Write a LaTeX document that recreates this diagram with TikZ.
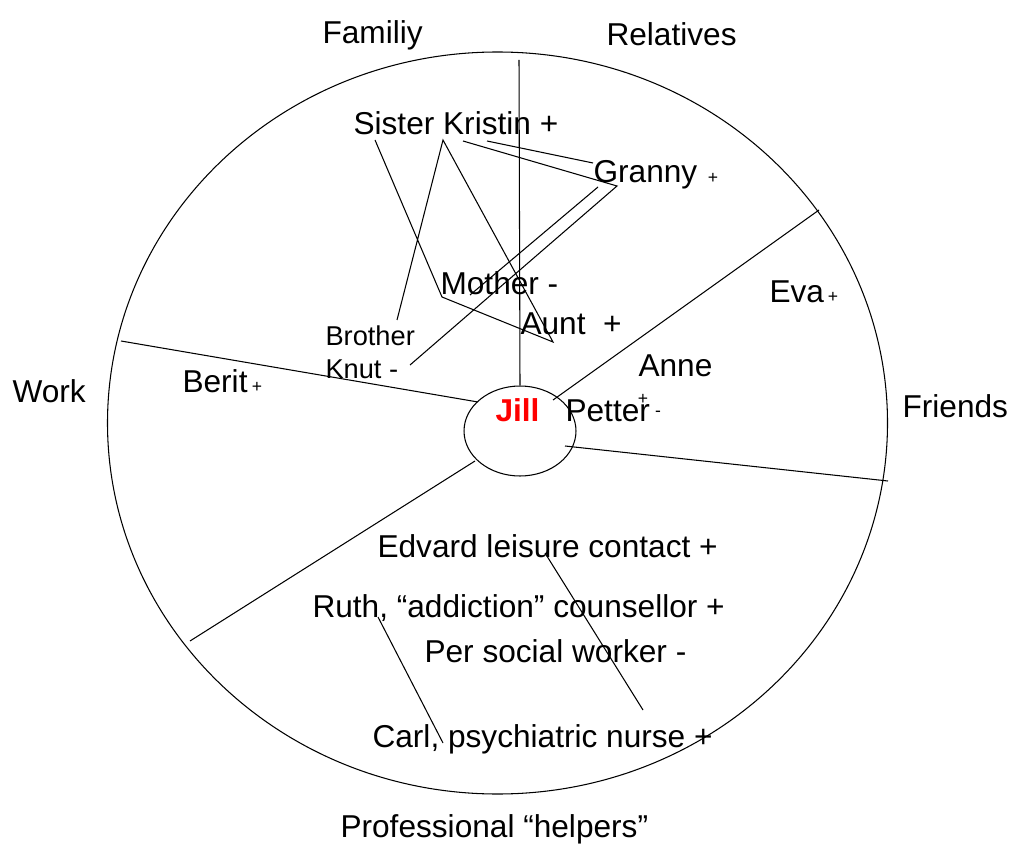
\documentclass[tikz,border=0pt]{standalone}
\usepackage{fontspec}
\setmainfont{Liberation Sans}
\usepackage{tikz}
\usetikzlibrary{positioning,shapes.geometric}

\begin{document}
\begin{tikzpicture}[x=0.02cm,y=-0.02cm,line width=0.6pt,
                    who/.style={font=\fontsize{18}{22}\selectfont,inner sep=0pt,anchor=base west},
                    sign/.style={font=\fontsize{10}{12}\selectfont,inner sep=0pt}]
  \useasboundingbox (0,0) rectangle (1010,844);

  % outer circle and the hub
  \draw (497.5,423) ellipse [x radius=390,y radius=371];
  \node[draw,ellipse,inner sep=0pt,minimum width=2.24cm,minimum height=1.8cm] (hub) at (520,431) {};
  \node[who,text=red,font=\fontsize{18}{22}\selectfont\bfseries] (jill) at (495,421) {Jill};

  % sector names
  \node[who] (family) at (322,44) {Familiy};
  \node[who] (relatives) at (606,46) {Relatives};
  \node[who] (work) at (12,402) {Work};
  \node[who] (friends) at (902,417) {Friends};
  \node[who] (helpers) at (340,837) {Professional “helpers”};

  % sector borders
  \coordinate (rim n) at (519,60);
  \coordinate (rim ne) at (819,210);
  \coordinate (rim e) at (888,481);
  \coordinate (rim sw) at (190,641);
  \coordinate (rim w) at (121,341);
  \coordinate (hub ne) at (553,400);
  \coordinate (hub e) at (565,446);
  \coordinate (hub sw) at (475,461);
  \coordinate (hub w) at (478,402);
  \draw (rim n) -- (hub.north);
  \draw (rim ne) -- (hub ne);
  \draw (hub e) -- (rim e);
  \draw (hub sw) -- (rim sw);
  \draw (rim w) -- (hub w);

  % family and relatives
  \node[who] (kristin) at (353,135) {Sister Kristin +};
  \node[who] (granny) at (593,183) {Granny};
  \node[sign] (granny sign) at (713,178) {+};
  \node[who] (mother) at (440,295) {Mother -};
  \node[who] (aunt) at (520,335) {Aunt\ \ +};
  \node[who,font=\fontsize{15.5}{18.7}\selectfont,align=left,anchor=north west] (knut) at (325,325) {Brother\\Knut -};

  % work
  \node[who] (berit) at (182,392) {Berit};
  \node[sign] (berit sign) at (257,387) {+};

  % friends
  \node[who] (eva) at (769,303) {Eva};
  \node[sign] (eva sign) at (833,297) {+};
  \node[who] (anne) at (638,376) {Anne};
  \node[sign] (anne sign) at (643,399) {+};
  \node[who] (petter) at (565,421) {Petter};
  \node[sign] (petter sign) at (658,414) {-};

  % professional helpers
  \node[who] (edvard) at (377,557) {Edvard leisure contact +};
  \node[who] (ruth) at (312,617) {Ruth, “addiction” counsellor +};
  \node[who] (per) at (424,662) {Per social worker -};
  \node[who] (carl) at (372,747) {Carl, psychiatric nurse +};

  % ties between people
  \coordinate (kristin a) at (375,140);
  \coordinate (kristin b) at (443,140);
  \coordinate (kristin c) at (463,141);
  \coordinate (kristin d) at (487,141);
  \coordinate (granny a) at (593,163);
  \coordinate (granny b) at (617,186);
  \coordinate (granny c) at (598,187);
  \coordinate (mother a) at (442,297);
  \coordinate (mother b) at (470,295);
  \coordinate (aunt a) at (553,342);
  \coordinate (knut a) at (397,320);
  \coordinate (knut b) at (410,365);
  \coordinate (edvard a) at (545,553);
  \coordinate (ruth a) at (378,617);
  \coordinate (carl a) at (643,710);
  \coordinate (carl b) at (443,743);

  \draw (kristin a) -- (mother a) -- (aunt a) -- (kristin b) -- (knut a);
  \draw (kristin c) -- (granny b) -- (knut b);
  \draw (kristin d) -- (granny a);
  \draw (granny c) -- (mother b);
  \draw (edvard a) -- (carl a);
  \draw (ruth a) -- (carl b);
\end{tikzpicture}
\end{document}
